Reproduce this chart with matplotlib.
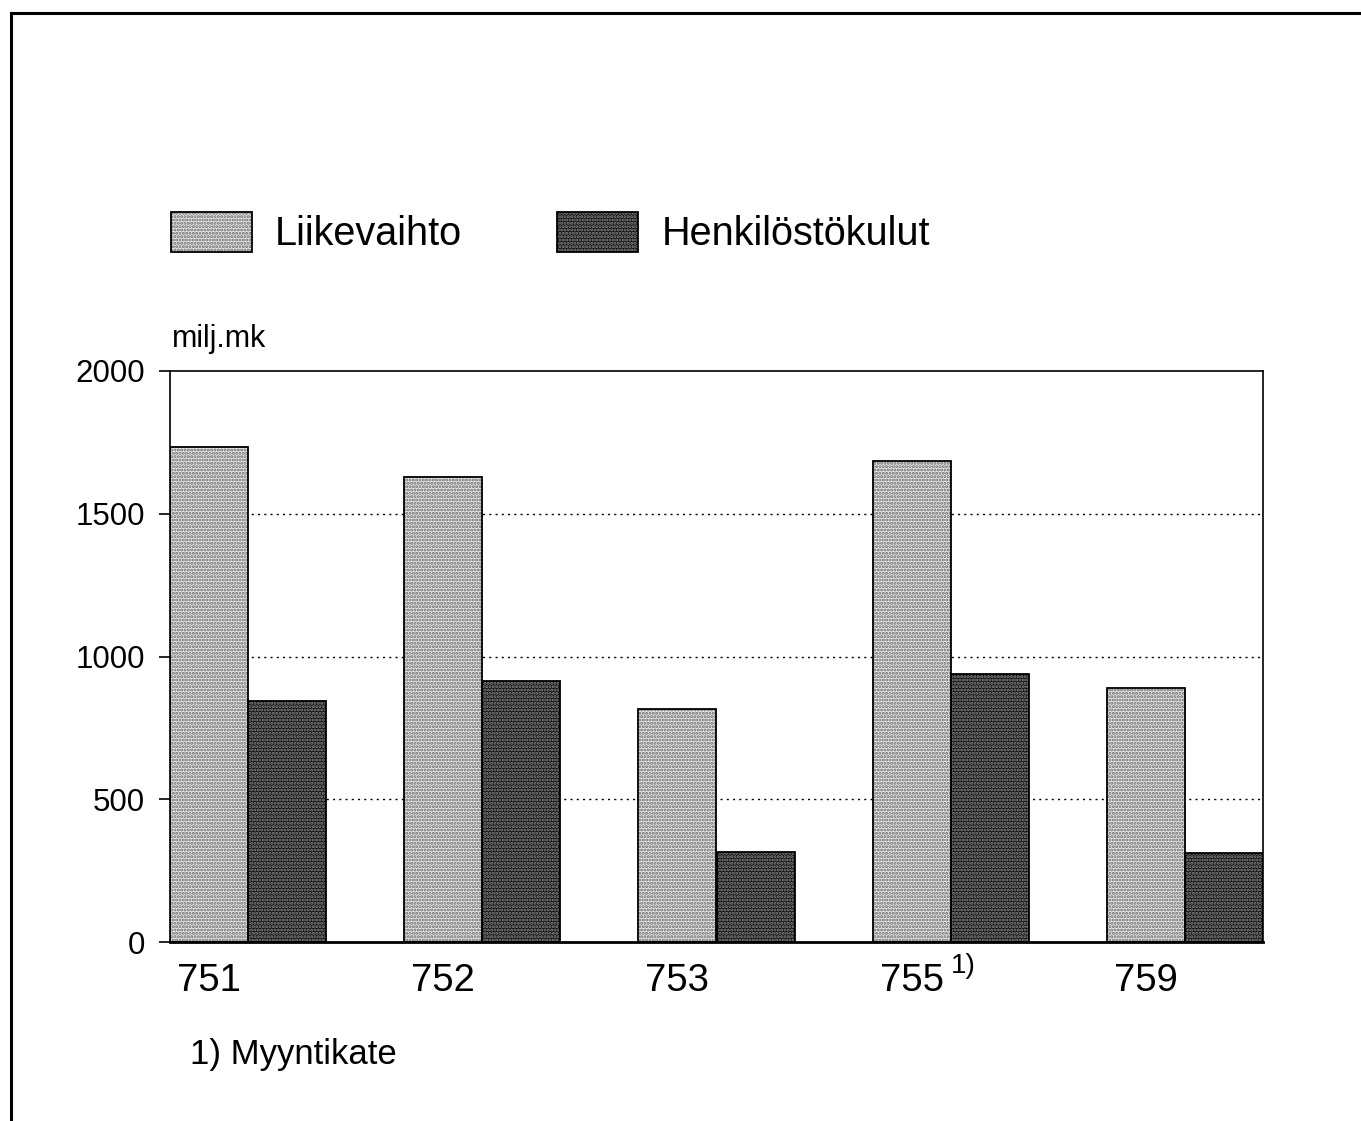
import numpy as np
import matplotlib
matplotlib.use("Agg")
import matplotlib.pyplot as plt
from matplotlib.patches import Patch
from matplotlib.lines import Line2D

plt.rcParams['font.family'] = ['Liberation Sans', 'DejaVu Sans']
plt.rcParams['hatch.linewidth'] = 1.5

# data (milj.mk)
toimialat = ['751', '752', '753', '755', '759']
liikevaihto = [1735, 1630, 815, 1685, 888]
henkilostokulut = [845, 915, 315, 940, 312]
sarjat = ['Liikevaihto', 'Henkilöstökulut']
yticks = [0, 500, 1000, 1500, 2000]

W, H = 1361, 1121
fig = plt.figure(figsize=(W / 100, H / 100), dpi=100)
ax = fig.add_axes([170 / W, 1 - 942 / H, 1093 / W, 571 / H])

x = np.arange(len(toimialat))
w = 1 / 3

light_face, light_dot = '#ececec', '#666666'
dark_face, dark_dot = '#0e0e0e', '#8c8c8c'

# hatch layer (edgecolor sets hatch colour), then black outlines on top
ax.bar(x, liikevaihto, w, align='edge', color=light_face, edgecolor=light_dot,
       hatch='.....', linewidth=0, zorder=2)
ax.bar(x + w, henkilostokulut, w, align='edge', color=dark_face, edgecolor=dark_dot,
       hatch='.....', linewidth=0, zorder=2)
ax.bar(x, liikevaihto, w, align='edge', fill=False, edgecolor='black', linewidth=1.3, zorder=3)
ax.bar(x + w, henkilostokulut, w, align='edge', fill=False, edgecolor='black', linewidth=1.3, zorder=3)

ax.set_xlim(0, len(toimialat) - 1 + 2 * w)
ax.set_ylim(0, 2000)
ax.set_yticks(yticks)
ax.tick_params(axis='y', labelsize=22.5, length=8, width=1.2, pad=10, direction='out')
ax.set_xticks(x + w / 2)
ax.set_xticklabels(toimialat)
ax.tick_params(axis='x', labelsize=27.5, length=0, pad=15)

for yv in yticks[1:-1]:
    ax.axhline(yv, color='black', linestyle=(0, (1.5, 3)), linewidth=1.0, zorder=1)

for s in ax.spines.values():
    s.set_linewidth(1.2)
ax.spines['bottom'].set_linewidth(2)

ax.text(0.002, 1.03, 'milj.mk', transform=ax.transAxes, fontsize=22, ha='left', va='bottom')

# footnote marker after 755
fig.text(951 / W, 1 - 979 / H, '1)', fontsize=20, ha='left', va='bottom')
fig.text(190 / W, 1 - 1071 / H, '1) Myyntikate', fontsize=25, ha='left', va='bottom')

# legend
h1 = (Patch(facecolor=light_face, edgecolor=light_dot, hatch='.....', linewidth=0),
      Patch(fill=False, edgecolor='black', linewidth=1.3))
h2 = (Patch(facecolor=dark_face, edgecolor=dark_dot, hatch='.....', linewidth=0),
      Patch(fill=False, edgecolor='black', linewidth=1.3))
fig.legend([h1, h2], sarjat, loc='upper left', bbox_to_anchor=(171 / W, 1 - 212 / H),
           ncol=2, frameon=False, fontsize=28.5, handlelength=2.05, handleheight=1.18,
           handletextpad=0.58, columnspacing=2.4, borderpad=0, borderaxespad=0)

# page frame (left and top edges)
fig.add_artist(Line2D([11 / W, 11 / W], [0, 1 - 13 / H], color='black', linewidth=2.2,
                      transform=fig.transFigure))
fig.add_artist(Line2D([11 / W, 1], [1 - 13 / H, 1 - 13 / H], color='black', linewidth=2.2,
                      transform=fig.transFigure))

fig.savefig('out.png', dpi=100, facecolor='white')
